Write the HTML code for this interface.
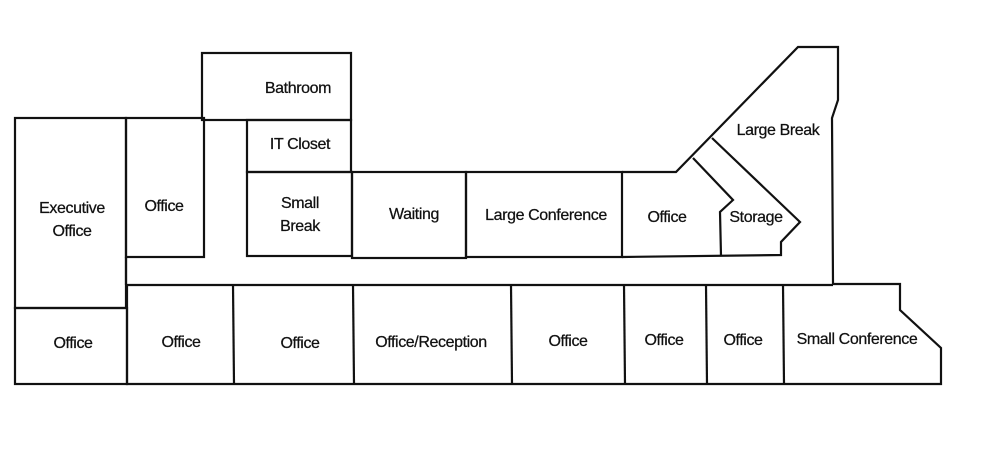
<!DOCTYPE html>
<html><head><style>body{margin:0;background:#fff}svg{display:block}text{font-family:"Liberation Sans",sans-serif;font-size:16px;letter-spacing:-0.4px;fill:#111;text-anchor:middle;stroke:#111;stroke-width:0.25}</style></head>
<body>
<svg width="1000" height="459" viewBox="0 0 1000 459">
<g fill="none" stroke="#111" stroke-width="2.2" stroke-linejoin="miter">
<rect x="15" y="118" width="111" height="190"/>
<rect x="15" y="308" width="112" height="76"/>
<rect x="126" y="118" width="78" height="139"/>
<rect x="202" y="53" width="149" height="67"/>
<rect x="247" y="120" width="104" height="52"/>
<rect x="247" y="172" width="105" height="84"/>
<rect x="352" y="172" width="114" height="86"/>
<rect x="466" y="172" width="156" height="85"/>
<polyline points="126,257 126,285"/>
<polyline points="622,172 676,172 798,47 838,47 838,100 832,118 833,284 900,284 900,310 941,348 941,384 127,384 127,285 833,285"/>
<polyline points="622,257 781,255 781,242 800,222 712,138"/>
<polyline points="693,158 733,200 720,212 721,256"/>
<line x1="233" y1="285" x2="234" y2="384"/>
<line x1="353" y1="285" x2="354" y2="384"/>
<line x1="511" y1="285" x2="512" y2="384"/>
<line x1="624" y1="285" x2="625" y2="384"/>
<line x1="706" y1="285" x2="707" y2="384"/>
<line x1="783" y1="285" x2="784" y2="384"/>
</g>
<text x="298" y="93">Bathroom</text>
<text x="300" y="149">IT Closet</text>
<text x="300" y="208">Small</text>
<text x="300" y="231">Break</text>
<text x="72" y="213">Executive</text>
<text x="72" y="236">Office</text>
<text x="164" y="211">Office</text>
<text x="414" y="219">Waiting</text>
<text x="546" y="220">Large Conference</text>
<text x="667" y="222">Office</text>
<text x="756" y="222">Storage</text>
<text x="778" y="135">Large Break</text>
<text x="73" y="348">Office</text>
<text x="181" y="347">Office</text>
<text x="300" y="348">Office</text>
<text x="431" y="347">Office/Reception</text>
<text x="568" y="346">Office</text>
<text x="664" y="345">Office</text>
<text x="743" y="345">Office</text>
<text x="857" y="344">Small Conference</text>
</svg>
</body></html>
